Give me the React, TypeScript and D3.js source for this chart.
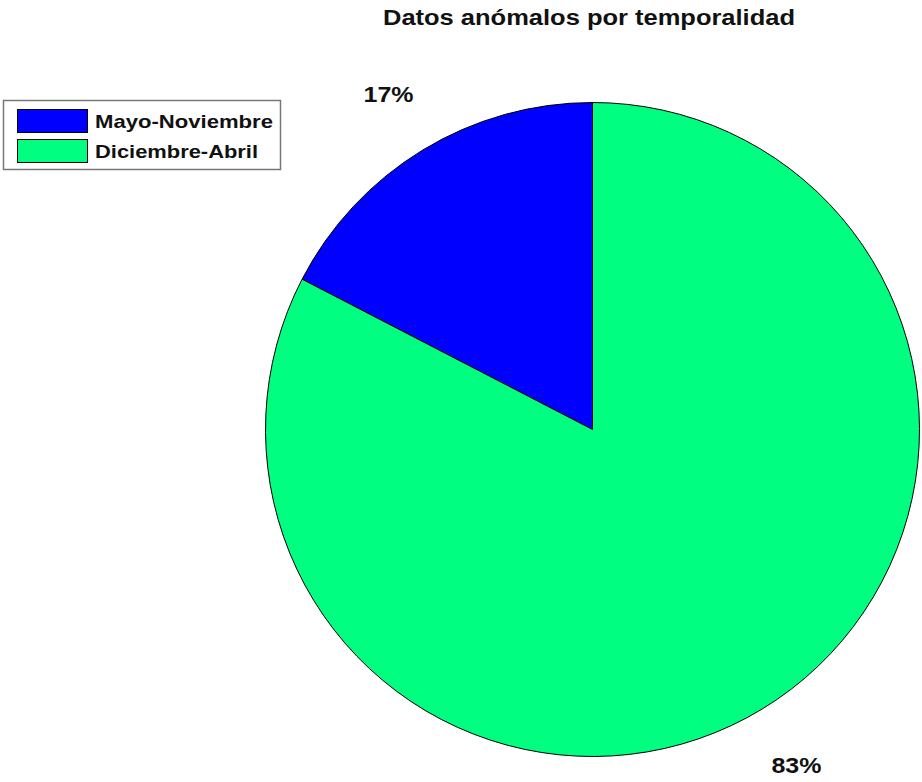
import React from "react";
import * as d3 from "d3";

const categories = ["Mayo-Noviembre", "Diciembre-Abril"];
const values = [17.4, 82.6];
const labels = ["17%", "83%"];
const colors = ["#0000FF", "#00FF80"];
const title = "Datos anómalos por temporalidad";

const W = 922;
const H = 782;
const cx = 592.5;
const cy = 429.5;
const R = 327;

export default function App() {
  const pie = d3
    .pie<number>()
    .sort(null)
    .startAngle(0)
    .endAngle(-2 * Math.PI)
    .value((d) => d);
  const arcs = pie(values);
  const arc = d3.arc<d3.PieArcDatum<number>>().innerRadius(0).outerRadius(R);
  const labelArc = d3
    .arc<d3.PieArcDatum<number>>()
    .innerRadius(R * 1.2)
    .outerRadius(R * 1.2);
  const font = "'Liberation Sans', Arial, Helvetica, sans-serif";

  return (
    <svg
      width={W}
      height={H}
      style={{ position: "absolute", left: 0, top: 0, background: "#fff" }}
    >
      <rect x={0} y={0} width={W} height={H} fill="#fff" />
      <text
        x={589}
        y={25}
        textAnchor="middle"
        fontFamily={font}
        fontWeight="bold"
        fontSize={22.5}
        textLength={412}
        lengthAdjust="spacingAndGlyphs"
        fill="#111"
      >
        {title}
      </text>
      <g transform={`translate(${cx},${cy})`}>
        {arcs.map((a, i) => (
          <path
            key={i}
            d={arc(a) || ""}
            fill={colors[i]}
            stroke="#000"
            strokeWidth={1}
          />
        ))}
        {arcs.map((a, i) => {
          const [x, y] = labelArc.centroid(a);
          return (
            <text
              key={"l" + i}
              x={x}
              y={y + 8}
              textAnchor="middle"
              fontFamily={font}
              fontWeight="bold"
              fontSize={22.5}
              textLength={50}
              lengthAdjust="spacingAndGlyphs"
              fill="#111"
            >
              {labels[i]}
            </text>
          );
        })}
      </g>
      <g>
        <rect
          x={3.5}
          y={100.5}
          width={277}
          height={69}
          fill="#fff"
          stroke="#777"
          strokeWidth={1.5}
        />
        {categories.map((c, i) => (
          <g key={c}>
            <rect
              x={17.5}
              y={109.5 + i * 30}
              width={70}
              height={23}
              fill={colors[i]}
              stroke="#000"
              strokeWidth={1}
            />
            <text
              x={95}
              y={128 + i * 30}
              fontFamily={font}
              fontWeight="bold"
              fontSize={18.5}
              textLength={i === 0 ? 178 : 163}
              lengthAdjust="spacingAndGlyphs"
              fill="#111"
            >
              {c}
            </text>
          </g>
        ))}
      </g>
    </svg>
  );
}
